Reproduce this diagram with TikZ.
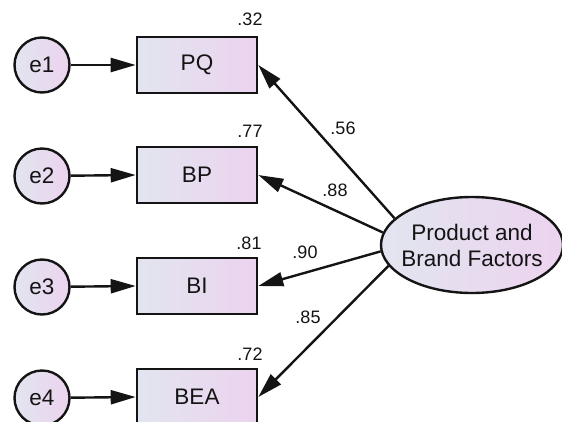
\documentclass[tikz,border=0pt]{standalone}
\usepackage{fontspec}
\setmainfont{Liberation Sans}
\usetikzlibrary{arrows.meta,shapes.geometric}
\definecolor{fillL}{HTML}{E2E5EF}
\definecolor{fillR}{HTML}{ECD3EF}
\definecolor{ink}{HTML}{141414}
\tikzset{
  obsbox/.style={draw=ink, line width=2.6pt, left color=fillL, right color=fillR,
    minimum width=120pt, minimum height=56pt, inner sep=0pt, text=ink,
    font=\fontsize{22.5}{26}\selectfont},
  errnode/.style={circle, draw=ink, line width=2.4pt, left color=fillL, right color=fillR,
    minimum size=55pt, inner sep=0pt, text=ink, font=\fontsize{22.5}{26}\selectfont},
  latent/.style={ellipse, draw=ink, line width=2.4pt, left color=fillL, right color=fillR,
    minimum width=182pt, minimum height=96pt, inner xsep=-9pt, inner ysep=0pt,
    align=center, text=ink, font=\fontsize{22.5}{26}\selectfont},
  path/.style={draw=ink, line width=2.4pt, -{Triangle[length=25pt,width=14pt]}},
  coef/.style={text=ink, font=\fontsize{18}{20}\selectfont, inner sep=0pt}
}
\begin{document}
\begin{tikzpicture}[x=1pt, y=-1pt]
  \useasboundingbox (0,0) rectangle (562,421);
  % observed indicators
  \node[obsbox] (pq)  at (197,65)  {PQ};
  \node[obsbox] (bp)  at (197,175) {BP};
  \node[obsbox] (bi)  at (197,286) {BI};
  \node[obsbox] (bea) at (197,397) {BEA};
  % error terms
  \node[errnode] (e1) at (42,65)  {e1};
  \node[errnode] (e2) at (42,176) {e2};
  \node[errnode] (e3) at (42,287) {e3};
  \node[errnode] (e4) at (42,398) {e4};
  % latent factor
  \node[latent] (f) at (472,245) {Product and\\Brand Factors};
  % error paths
  \draw[path] (e1) -- (pq.west);
  \draw[path] (e2) -- (bp.west);
  \draw[path] (e3) -- (bi.west);
  \draw[path] (e4) -- (bea.west);
  % loadings
  \draw[path] (f.161) -- (pq.east);
  \draw[path] (f.172) -- (bp.east);
  \draw[path] (f.184) -- (bi.east);
  \draw[path] (f.194) -- (bea.east);
  % squared multiple correlations
  \node[coef] (r1) at (250,19)  {.32};
  \node[coef] (r2) at (250,131) {.77};
  \node[coef] (r3) at (249,243) {.81};
  \node[coef] (r4) at (250,354) {.72};
  % standardized loadings
  \node[coef] (l1) at (343,128) {.56};
  \node[coef] (l2) at (335,190) {.88};
  \node[coef] (l3) at (305,252) {.90};
  \node[coef] (l4) at (308,317) {.85};
\end{tikzpicture}
\end{document}
